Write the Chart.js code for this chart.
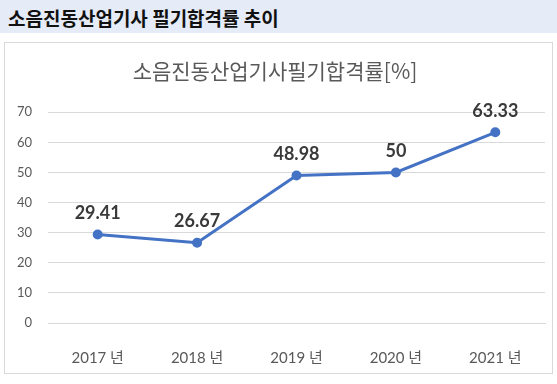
<!DOCTYPE html>
<html>
<head>
<meta charset="utf-8">
<script src="https://cdn.jsdelivr.net/npm/chart.js@4.4.1/dist/chart.umd.min.js"></script>
<style>
    html, body { margin: 0; padding: 0; background: #fff; }
    body { width: 557px; height: 384px; position: relative; overflow: hidden; }
    .head {
        position: absolute; left: 0; top: 0; width: 557px; height: 33px;
        background: #e5ebf7;
        font-family: "Noto Sans CJK KR", sans-serif; font-weight: bold; font-size: 19px;
        line-height: 35px; color: #111; padding-left: 8px; box-sizing: border-box;
    }
    .box {
        position: absolute; left: 4px; top: 42px; width: 549px; height: 332px;
        border: 1px solid #d9d9d9; box-sizing: border-box;
    }
    .box canvas { display: block; }
</style>
</head>
<body>
<div class="head">소음진동산업기사 필기합격률 추이</div>
<div class="box"><canvas id="rate-chart" width="547" height="330"></canvas></div>
<script>
    "use strict";

    // Data
    var years = ["2017 년", "2018 년", "2019 년", "2020 년", "2021 년"];
    var passRates = [29.41, 26.67, 48.98, 50, 63.33];
    var yTicks = [0, 10, 20, 30, 40, 50, 60, 70];

    // Value labels above the points
    var pointLabels = {
        id: "pointLabels",
        afterDatasetsDraw: function (chart) {
            var ctx = chart.ctx;
            var meta = chart.getDatasetMeta(0);
            ctx.save();
            ctx.font = "bold 18px Lato, 'Noto Sans', sans-serif";
            ctx.fillStyle = "#3a3a3a";
            ctx.textAlign = "center";
            ctx.textBaseline = "middle";
            meta.data.forEach(function (pt, i) {
                ctx.fillText(String(passRates[i]), pt.x, pt.y - 21);
            });
            ctx.restore();
        }
    };

    var ctx = document.getElementById("rate-chart").getContext("2d");
    var myChart = new Chart(ctx, {
        type: "line",
        data: {
            labels: years,
            datasets: [{
                data: passRates,
                borderColor: "#4472c4",
                backgroundColor: "#4472c4",
                borderWidth: 3,
                pointRadius: 3.5,
                pointHoverRadius: 3.5,
                tension: 0,
                fill: false
            }]
        },
        options: {
            responsive: false,
            animation: false,
            layout: { padding: { left: 0, right: 7, top: 0, bottom: 0 } },
            plugins: {
                legend: { display: false },
                tooltip: { enabled: false },
                title: {
                    display: true,
                    text: "소음진동산업기사필기합격률[%]",
                    color: "#595959",
                    font: { family: "'Noto Sans CJK KR', sans-serif", size: 21, weight: "normal" },
                    padding: { top: 15, bottom: 29 }
                }
            },
            scales: {
                x: {
                    offset: true,
                    afterFit: function (axis) { axis.height = 50; },
                    grid: { display: false, drawTicks: false },
                    border: { display: true, color: "#d9d9d9", width: 1 },
                    ticks: {
                        color: "#595959",
                        padding: 26,
                        font: { family: "Lato, 'Noto Sans CJK KR', sans-serif", size: 15 }
                    }
                },
                y: {
                    min: 0,
                    max: 70,
                    afterFit: function (axis) { axis.width = 43; },
                    afterBuildTicks: function (axis) {
                        axis.ticks = yTicks.map(function (v) { return { value: v }; });
                    },
                    grid: { color: "#d9d9d9", lineWidth: 1, drawTicks: false },
                    border: { display: false },
                    ticks: {
                        color: "#595959",
                        padding: 16,
                        font: { family: "Lato, 'Noto Sans', sans-serif", size: 13 }
                    }
                }
            }
        },
        plugins: [pointLabels]
    });
</script>
</body>
</html>
